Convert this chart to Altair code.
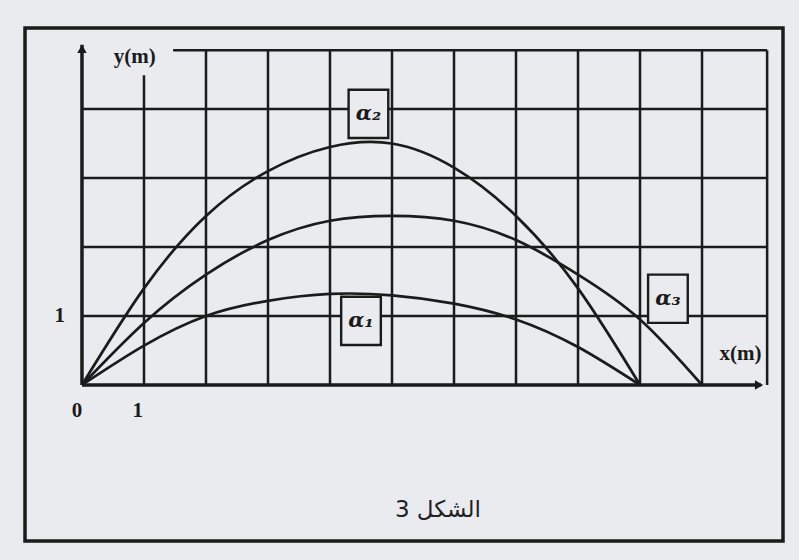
import altair as alt
import pandas as pd

# Trajectory heights y (m) read at each horizontal distance x (m)
x_a1 = [0, 1, 2, 3, 4, 5, 6, 7, 8, 9]
y_a1 = [0, 0.57, 1.0, 1.22, 1.32, 1.3, 1.18, 0.95, 0.55, 0]
x_a2 = [0, 1, 2, 3, 4, 5, 6, 7, 8, 9]
y_a2 = [0, 1.4, 2.45, 3.1, 3.45, 3.5, 3.15, 2.45, 1.4, 0]
x_a3 = [0, 1, 2, 3, 4, 5, 6, 7, 8, 9, 10]
y_a3 = [0, 0.9, 1.6, 2.1, 2.38, 2.45, 2.38, 2.1, 1.6, 0.95, 0]

# Curve tags and where each boxed tag sits (m)
curve_names = ["α₁", "α₂", "α₃"]
tag_x = [4.5, 4.62, 9.45]
tag_y = [0.93, 3.93, 1.25]

# Tick labels on the axes
tick_text = ["0", "1", "1"]
tick_x = [-0.08, 0.9, -0.36]
tick_y = [-0.37, -0.37, 1.0]

# Grid: vertical lines and horizontal lines
vgrid_x = [1, 2, 3, 4, 5, 6, 7, 8, 9, 10, 11.05]
vgrid_top = [4.49, 4.85, 4.85, 4.85, 4.85, 4.85, 4.85, 4.85, 4.85, 4.85, 4.85]
hgrid_y = [1, 2, 3, 4, 4.85]
hgrid_start = [0, 0, 0, 0, 1.47]
grid_right = 11.05

INK = "#1b1b1b"
PAPER = "#e9ebef"

# Pixel layout of the whole frame
W, H = 758, 513
XMIN, XMAX = -0.919, 11.306
YMIN, YMAX = -2.261, 5.174

xs = alt.Scale(domain=[XMIN, XMAX], nice=False, zero=False)
ys = alt.Scale(domain=[YMIN, YMAX], nice=False, zero=False)


def X(field):
    return alt.X(f"{field}:Q", scale=xs, axis=None)


def Y(field):
    return alt.Y(f"{field}:Q", scale=ys, axis=None)


curves = pd.concat([
    pd.DataFrame({"x": x_a1, "y": y_a1, "curve": "a1"}),
    pd.DataFrame({"x": x_a2, "y": y_a2, "curve": "a2"}),
    pd.DataFrame({"x": x_a3, "y": y_a3, "curve": "a3"}),
])

vgrid = pd.DataFrame({"x": vgrid_x, "y0": [0] * len(vgrid_x), "y1": vgrid_top})
hgrid = pd.DataFrame({"x0": hgrid_start, "x1": [grid_right] * len(hgrid_y), "y": hgrid_y})

tags = pd.DataFrame({"name": curve_names, "x": tag_x, "y": tag_y})
tags["x0"] = tags["x"] - 0.32
tags["x1"] = tags["x"] + 0.32
tags["y0"] = tags["y"] - 0.35
tags["y1"] = tags["y"] + 0.35

ticks = pd.DataFrame({"t": tick_text, "x": tick_x, "y": tick_y})

v_lines = alt.Chart(vgrid).mark_rule(color=INK, strokeWidth=2.5).encode(
    x=X("x"), y=Y("y0"), y2="y1")
h_lines = alt.Chart(hgrid).mark_rule(color=INK, strokeWidth=2.5).encode(
    x=X("x0"), x2="x1", y=Y("y"))

axes_df = pd.DataFrame({"x0": [0, 0], "x1": [10.95, 0], "y0": [0, 0], "y1": [0, 4.93]})
axis_lines = alt.Chart(axes_df).mark_rule(color=INK, strokeWidth=3.5).encode(
    x=X("x0"), x2="x1", y=Y("y0"), y2="y1")

arrow_up = alt.Chart(pd.DataFrame({"x": [0], "y": [4.87]})).mark_point(
    shape="triangle-up", filled=True, color=INK, size=90, opacity=1).encode(x=X("x"), y=Y("y"))
arrow_right = alt.Chart(pd.DataFrame({"x": [10.92], "y": [0]})).mark_point(
    shape="triangle-right", filled=True, color=INK, size=90, opacity=1).encode(x=X("x"), y=Y("y"))

paths = alt.Chart(curves).mark_line(color=INK, strokeWidth=2.7, interpolate="natural").encode(
    x=X("x"), y=Y("y"), detail="curve:N")

boxes = alt.Chart(tags).mark_rect(fill=PAPER, stroke=INK, strokeWidth=2.4).encode(
    x=X("x0"), x2="x1", y=Y("y0"), y2="y1")
box_text = alt.Chart(tags).mark_text(
    font="DejaVu Serif", fontSize=21, fontWeight="bold", color=INK, fontStyle="italic").encode(
    x=X("x"), y=Y("y"), text="name:N")

tick_marks = alt.Chart(ticks).mark_text(
    font="Liberation Serif", fontSize=21, fontWeight="bold", color=INK).encode(
    x=X("x"), y=Y("y"), text="t:N")

titles = pd.DataFrame({"t": ["y(m)", "x(m)"], "x": [0.85, 10.62], "y": [4.76, 0.45]})
axis_titles = alt.Chart(titles).mark_text(
    font="Liberation Serif", fontSize=21, fontWeight="bold", color=INK).encode(
    x=X("x"), y=Y("y"), text="t:N")

caption = alt.Chart(pd.DataFrame({"t": ["الشكل 3"], "x": [5.74], "y": [-1.81]})).mark_text(
    font="DejaVu Sans", fontSize=23, color="#222222").encode(
    x=X("x"), y=Y("y"), text="t:N")

chart = alt.layer(
    v_lines, h_lines, paths, axis_lines, arrow_up, arrow_right,
    boxes, box_text, tick_marks, axis_titles, caption,
).properties(
    width=W, height=H,
    autosize=alt.AutoSizeParams(type="none"),
    padding={"left": 25, "top": 28, "right": 16, "bottom": 19},
    background=PAPER,
).configure_view(stroke=INK, strokeWidth=3.5)

chart.save("out.html", embed_options={"renderer": "svg", "actions": False})
